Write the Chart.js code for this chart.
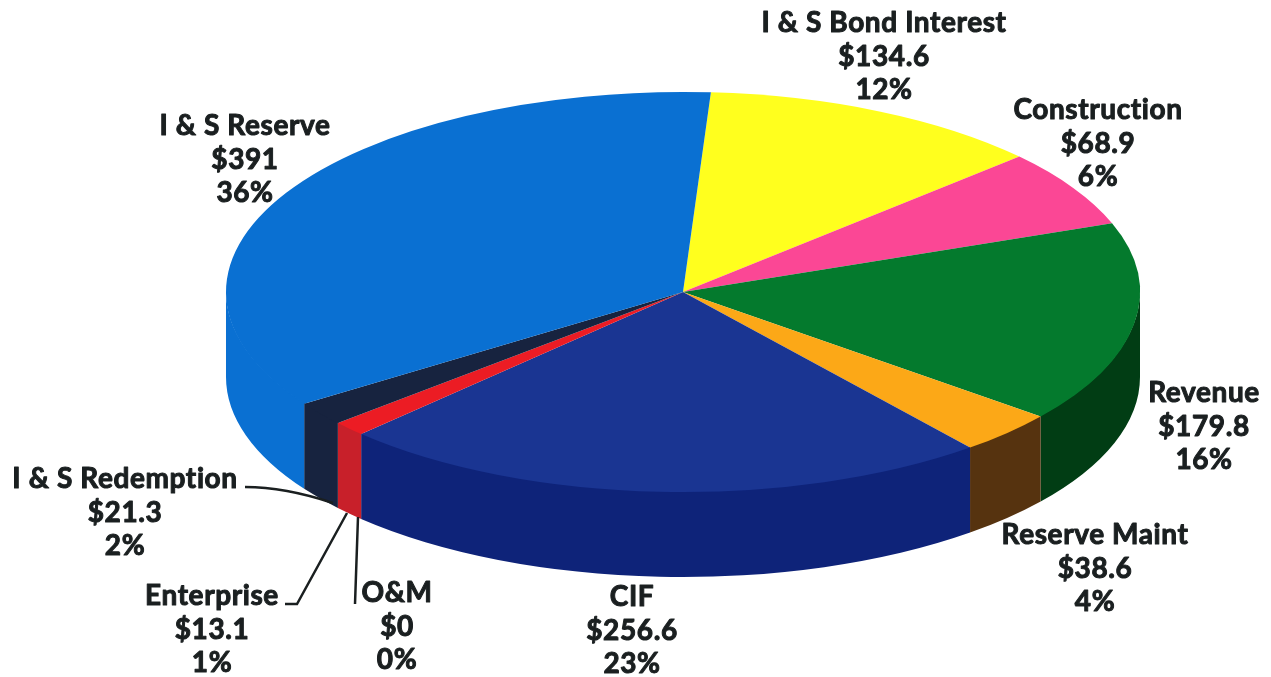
<!DOCTYPE html>
<html>
<head>
<meta charset="utf-8">
<title>Fund balances</title>
<script src="https://cdn.jsdelivr.net/npm/chart.js@4"></script>
<style>
    html, body { margin: 0; background: #fff; }
    canvas { display: block; }
</style>
</head>
<body>
<canvas id="fundsChart" width="1271" height="677"></canvas>
<script>
// clockwise from the top of the pie
const categories = ['I & S Bond Interest', 'Construction', 'Revenue', 'Reserve Maint', 'CIF', 'O&M', 'Enterprise', 'I & S Redemption', 'I & S Reserve'];
const amounts = [134.6, 68.9, 179.8, 38.6, 256.6, 0, 13.1, 21.3, 391];
const percents = [12, 6, 16, 4, 23, 0, 1, 2, 36];

const topColors = ['#ffff1e', '#fb4795', '#047a2d', '#fca817', '#1a3592', '#1a3592', '#ec1c24', '#17233f', '#0a70d2'];
const sideColors = ['#c9c918', '#b83570', '#013d14', '#56330f', '#0e2379', '#0e2379', '#c8202a', '#17233f', '#0a70d2'];

// label centre x and the baseline of its first line
const labelAnchors = [[884, 32], [1098, 119], [1204, 402], [1095, 544], [632, 606], [397, 602], [212, 605], [125, 488], [245, 135]];
const LINE_HEIGHT = 33.5;

const RADIUS_X = 457;
const RADIUS_Y = 200;
const DEPTH = 85;

// draws the rim below the front half of the pie
const pieSides = {
    id: 'pieSides',
    beforeDatasetsDraw(chart) {
        const ctx = chart.ctx;
        chart.getDatasetMeta(0).data.forEach((arc, i) => {
            for (const shift of [0, Math.PI * 2, -Math.PI * 2]) {
                const from = Math.max(arc.startAngle + shift, 0);
                const to = Math.min(arc.endAngle + shift, Math.PI);
                if (to <= from) continue;
                // starts a pixel high so no seam shows under the top face
                ctx.beginPath();
                ctx.ellipse(arc.x, arc.y - 1, RADIUS_X, RADIUS_Y, 0, from, to);
                ctx.ellipse(arc.x, arc.y + DEPTH, RADIUS_X, RADIUS_Y, 0, to, from, true);
                ctx.closePath();
                ctx.fillStyle = sideColors[i];
                ctx.fill();
            }
        });
    },
    // flatten the circular arcs into an ellipse
    beforeDatasetDraw(chart, args) {
        const ctx = chart.ctx;
        const first = args.meta.data[0];
        ctx.save();
        ctx.translate(first.x, first.y);
        ctx.scale(1, RADIUS_Y / RADIUS_X);
        ctx.translate(-first.x, -first.y);
        args.meta.controller.draw();
        ctx.restore();
        return false;
    }
};

const pieLabels = {
    id: 'pieLabels',
    afterDraw(chart) {
        const ctx = chart.ctx;
        ctx.save();

        // leader lines for the three narrow slices
        ctx.strokeStyle = '#1a1f20';
        ctx.lineWidth = 2.5;
        ctx.beginPath();
        ctx.moveTo(245, 487);
        ctx.quadraticCurveTo(285, 487, 333, 503);
        ctx.moveTo(285, 604);
        ctx.lineTo(297, 604);
        ctx.lineTo(347, 513);
        ctx.moveTo(355, 604);
        ctx.lineTo(358, 517);
        ctx.stroke();

        ctx.fillStyle = '#1a1f20';
        ctx.font = '700 28px Lato';
        ctx.letterSpacing = '0.6px';
        ctx.lineWidth = 1;
        ctx.lineJoin = 'round';
        ctx.textAlign = 'center';
        ctx.textBaseline = 'alphabetic';
        categories.forEach((name, i) => {
            const [x, y] = labelAnchors[i];
            const lines = [name, '$' + amounts[i], percents[i] + '%'];
            lines.forEach((line, n) => {
                // a thin outline gives the labels their extra weight
                ctx.strokeText(line, x, y + LINE_HEIGHT * n);
                ctx.fillText(line, x, y + LINE_HEIGHT * n);
            });
        });
        ctx.restore();
    }
};

new Chart(document.getElementById('fundsChart'), {
    type: 'pie',
    data: {
        labels: categories,
        datasets: [{
            data: amounts,
            backgroundColor: topColors,
            borderWidth: 0,
            radius: RADIUS_X
        }]
    },
    options: {
        responsive: false,
        animation: false,
        rotation: 3.5,
        // puts the pie centre at (683, 292)
        layout: { padding: { left: 95, bottom: 93 } },
        plugins: {
            legend: { display: false },
            tooltip: { enabled: false }
        }
    },
    plugins: [pieSides, pieLabels]
});
</script>
</body>
</html>
